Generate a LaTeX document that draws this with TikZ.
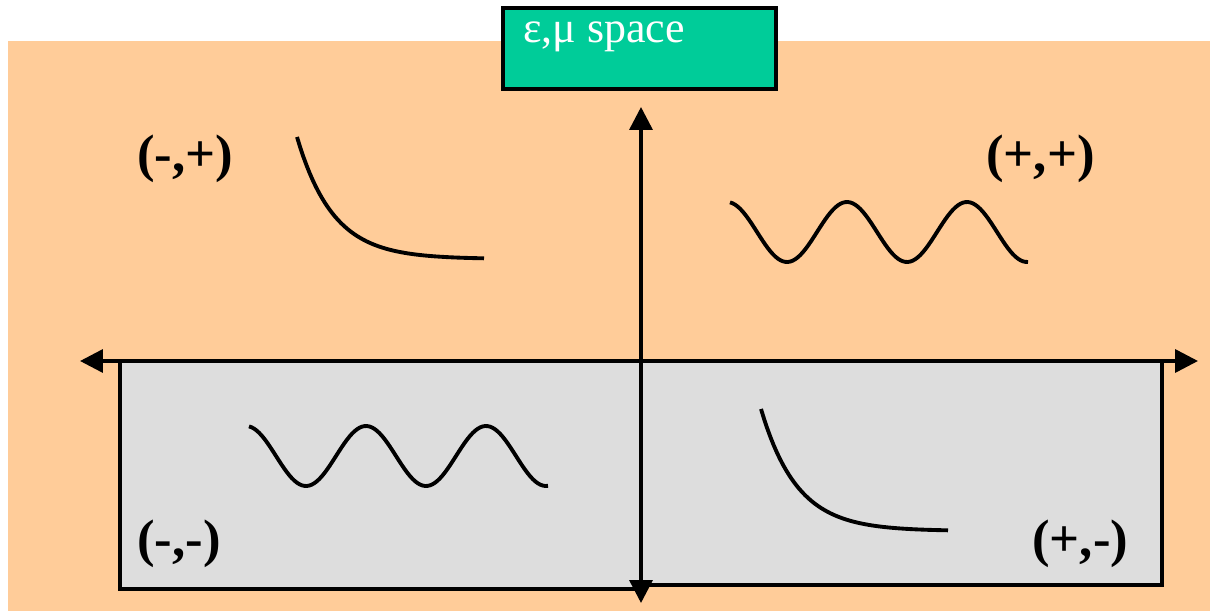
\documentclass[tikz,border=0pt]{standalone}
\usepackage{fontspec}
\setmainfont{Liberation Serif}
\usepackage{xcolor}
\usepackage{tikz}
\usetikzlibrary{arrows.meta, positioning}
\definecolor{peach}{HTML}{FFCC99}
\definecolor{mint}{HTML}{00CC99}
\definecolor{lightgrey}{HTML}{DDDDDD}

\begin{document}
\begin{tikzpicture}[x=0.02cm, y=-0.02cm,
        quadrant/.style={font=\fontsize{30}{36}\selectfont\bfseries, inner sep=0pt, anchor=base west},
        titlebox/.style={draw, line width=2pt, fill=mint, minimum width=5.46cm, minimum height=1.62cm},
        half/.style={draw, line width=2pt, fill=lightgrey},
        axis/.style={draw, line width=2pt, {Triangle[length=13pt, width=13pt]}-{Triangle[length=13pt, width=13pt]}},
        curve/.style={draw, line width=2.2pt, line join=round}]

        \useasboundingbox (0,0) rectangle (1210,611);
        \fill [peach] (8,41) rectangle (1210,611);

        % lower half plane
        \draw [half] (120,361) rectangle (641,589);
        \draw [half] (641,361) rectangle (1162,585);

        \node [titlebox] (title) at (639.5,48.5) {};
        \node [font=\fontsize{25}{28}\selectfont, text=white, inner sep=0pt, anchor=base west] (titletext) at (523,43) {ε,μ space};

        \node [quadrant] (mp) at (137,172) {(-,+)};
        \node [quadrant] (pp) at (986,172) {(+,+)};
        \node [quadrant] (mm) at (137,556) {(-,-)};
        \node [quadrant] (pm) at (1032,556) {(+,-)};

        % Axes
        \coordinate (top) at (641,107);
        \coordinate (bottom) at (641,603);
        \coordinate (left) at (80,361);
        \coordinate (right) at (1198,361);
        \path [axis] (top) -- (bottom);
        \path [axis] (left) -- (right);

        % Curves in the quadrants
        \draw [curve] plot [domain=0:187, samples=60] ({297+\x}, {259-122*exp(-\x/36)});
        \draw [curve] plot [domain=0:187, samples=60] ({761+\x}, {531-122*exp(-\x/36)});
        \draw [curve] plot [domain=730:1028, samples=120] (\x, {232-30*cos(3*(\x-727))});
        \draw [curve] plot [domain=249:548, samples=120] (\x, {456-30*cos(3*(\x-246))});

    \end{tikzpicture}
\end{document}
